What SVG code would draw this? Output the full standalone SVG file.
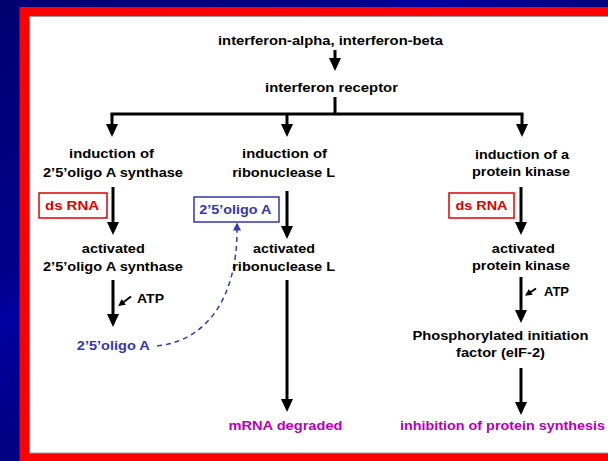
<svg xmlns="http://www.w3.org/2000/svg" width="608" height="461" viewBox="0 0 608 461">
<defs>
<linearGradient id="bg" x1="0" y1="0" x2="1" y2="1">
<stop offset="0" stop-color="#000070"/>
<stop offset="0.3" stop-color="#00008a"/>
<stop offset="0.35" stop-color="#0000a0"/>
<stop offset="0.5" stop-color="#000080"/>
<stop offset="0.7" stop-color="#000098"/>
<stop offset="1" stop-color="#000078"/>
</linearGradient>
<marker id="ah" markerUnits="userSpaceOnUse" markerWidth="13" markerHeight="12" viewBox="0 0 13 12" refX="3" refY="6" orient="auto"><path d="M0,0 L13,6 L0,12 z" fill="#000"/></marker>
<marker id="ahs" markerUnits="userSpaceOnUse" markerWidth="7" markerHeight="7" viewBox="0 0 7 7" refX="1" refY="3.5" orient="auto"><path d="M0,0 L7,3.5 L0,7 z" fill="#000"/></marker>
<marker id="ahb" markerUnits="userSpaceOnUse" markerWidth="8" markerHeight="8" viewBox="0 0 8 8" refX="0.5" refY="4" orient="auto"><path d="M0,0 L8,4 L0,8 z" fill="#3838b0"/></marker>
<style>
text{font-family:"Liberation Sans",Arial,sans-serif;font-weight:bold;font-size:13px;text-anchor:middle;fill:#000}
.red{fill:#dd0000}
.blue{fill:#3535b0}
.mag{fill:#b400b8}
.shaft{stroke:#000;stroke-width:3;fill:none}
.thin{stroke:#000;stroke-width:2;fill:none}
.dash{stroke:#3838b0;stroke-width:1.5;fill:none;stroke-dasharray:5 4}
.rbox{fill:#fff;stroke:#dd0000;stroke-width:1.5}
.bbox{fill:#fff;stroke:#3535b0;stroke-width:1.5}
</style>
</defs>
<rect x="0" y="0" width="608" height="461" fill="url(#bg)"/>
<rect x="19.5" y="7" width="600" height="460" fill="#ff0000"/>
<rect x="29.5" y="16.5" width="580" height="436.5" fill="#fff" stroke="#999" stroke-width="1"/>

<g id="connectors">
<line class="shaft" x1="335" y1="50" x2="335" y2="61" marker-end="url(#ah)"/>
<line class="shaft" x1="335" y1="97" x2="335" y2="114"/>
<line class="shaft" x1="110.5" y1="114" x2="523.5" y2="114"/>
<line class="shaft" x1="112" y1="114" x2="112" y2="127" marker-end="url(#ah)"/>
<line class="shaft" x1="287" y1="114" x2="287" y2="127" marker-end="url(#ah)"/>
<line class="shaft" x1="522" y1="114" x2="522" y2="127" marker-end="url(#ah)"/>
<line class="shaft" x1="113" y1="187" x2="113" y2="225" marker-end="url(#ah)"/>
<line class="shaft" x1="287" y1="191" x2="287" y2="229" marker-end="url(#ah)"/>
<line class="shaft" x1="521" y1="187" x2="521" y2="225" marker-end="url(#ah)"/>
<line class="shaft" x1="113" y1="280" x2="113" y2="317" marker-end="url(#ah)"/>
<line class="shaft" x1="287" y1="280" x2="287" y2="402" marker-end="url(#ah)"/>
<line class="shaft" x1="521" y1="277" x2="521" y2="313" marker-end="url(#ah)"/>
<line class="shaft" x1="521" y1="368" x2="521" y2="405" marker-end="url(#ah)"/>
<line class="thin" x1="131" y1="296.5" x2="123" y2="302.5" marker-end="url(#ahs)"/>
<line class="thin" x1="536" y1="288.5" x2="530" y2="292.5" marker-end="url(#ahs)"/>
<path class="dash" d="M157,346 C205,341 237,300 237,230" marker-end="url(#ahb)"/>
</g>

<g id="n-interferon"><text x="330.5" y="45" textLength="225" lengthAdjust="spacingAndGlyphs">interferon-alpha, interferon-beta</text></g>
<g id="n-receptor"><text x="331.5" y="92" textLength="133" lengthAdjust="spacingAndGlyphs">interferon receptor</text></g>

<g id="n-ind-synthase"><text x="111.5" y="158" textLength="85" lengthAdjust="spacingAndGlyphs">induction of</text><text x="113" y="176.5" textLength="140" lengthAdjust="spacingAndGlyphs">2’5’oligo A synthase</text></g>
<g id="n-ind-ribo"><text x="284.5" y="158" textLength="85" lengthAdjust="spacingAndGlyphs">induction of</text><text x="283.7" y="176.5" textLength="103" lengthAdjust="spacingAndGlyphs">ribonuclease L</text></g>
<g id="n-ind-kinase"><text x="522" y="158.5" textLength="94" lengthAdjust="spacingAndGlyphs">induction of a</text><text x="521" y="176" textLength="98" lengthAdjust="spacingAndGlyphs">protein kinase</text></g>

<g id="n-dsrna-1"><rect class="rbox" x="39" y="193" width="68" height="25"/><text class="red" x="72" y="209.5" textLength="54" lengthAdjust="spacingAndGlyphs">ds RNA</text></g>
<g id="n-oligo-box"><rect class="bbox" x="194" y="197" width="85" height="25"/><text class="blue" x="235.3" y="214" textLength="72" lengthAdjust="spacingAndGlyphs">2’5’oligo A</text></g>
<g id="n-dsrna-2"><rect class="rbox" x="449" y="193" width="65" height="25"/><text class="red" x="481.5" y="209.5" textLength="52" lengthAdjust="spacingAndGlyphs">ds RNA</text></g>

<g id="n-act-synthase"><text x="113.3" y="252.5" textLength="63" lengthAdjust="spacingAndGlyphs">activated</text><text x="113" y="270.5" textLength="140" lengthAdjust="spacingAndGlyphs">2’5’oligo A synthase</text></g>
<g id="n-act-ribo"><text x="284" y="252.5" textLength="62" lengthAdjust="spacingAndGlyphs">activated</text><text x="283.7" y="270.5" textLength="103" lengthAdjust="spacingAndGlyphs">ribonuclease L</text></g>
<g id="n-act-kinase"><text x="523.3" y="252.5" textLength="63" lengthAdjust="spacingAndGlyphs">activated</text><text x="521" y="270" textLength="98" lengthAdjust="spacingAndGlyphs">protein kinase</text></g>

<g id="n-atp-1"><text x="150.5" y="302.5" textLength="27" lengthAdjust="spacingAndGlyphs">ATP</text></g>
<g id="n-atp-2"><text x="556.5" y="296" textLength="25" lengthAdjust="spacingAndGlyphs">ATP</text></g>

<g id="n-oligo"><text class="blue" x="113.3" y="350" textLength="73" lengthAdjust="spacingAndGlyphs">2’5’oligo A</text></g>
<g id="n-eif2"><text x="500.5" y="340" textLength="176" lengthAdjust="spacingAndGlyphs">Phosphorylated initiation</text><text x="500.5" y="356.5" textLength="89" lengthAdjust="spacingAndGlyphs">factor (eIF-2)</text></g>
<g id="n-mrna"><text class="mag" x="285.5" y="430" textLength="114" lengthAdjust="spacingAndGlyphs">mRNA degraded</text></g>
<g id="n-inhibit"><text class="mag" x="502.5" y="430" textLength="205" lengthAdjust="spacingAndGlyphs">inhibition of protein synthesis</text></g>
</svg>
